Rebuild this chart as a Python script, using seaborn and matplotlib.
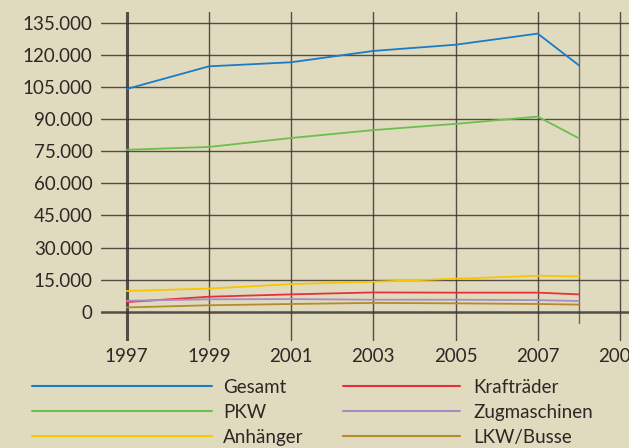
import matplotlib
matplotlib.use("Agg")
import matplotlib.pyplot as plt
import pandas as pd
import seaborn as sns
from matplotlib.ticker import FuncFormatter

# Daten
jahre = [1997, 1999, 2001, 2003, 2005, 2007, 2008]
gesamt = [104100, 114700, 116600, 121900, 124800, 130000, 115200]
pkw = [75700, 77000, 81200, 84900, 87800, 91200, 81100]
anhaenger = [9700, 10800, 12900, 14000, 15400, 16800, 16500]
kraftraeder = [4500, 7000, 8100, 9000, 8900, 8900, 8100]
zugmaschinen = [5100, 5800, 5900, 5600, 5600, 5400, 5000]
lkw_busse = [2000, 3000, 3600, 4100, 3900, 3600, 3300]

serien = ["Gesamt", "PKW", "Anhänger", "Krafträder", "Zugmaschinen", "LKW/Busse"]
farben = ["#1b7bc6", "#6dbf4b", "#f7c600", "#e8303c", "#a88cc0", "#b38b2a"]
y_ticks = [0, 15000, 30000, 45000, 60000, 75000, 90000, 105000, 120000, 135000]
x_ticks = [1997, 1999, 2001, 2003, 2005, 2007, 2009]

werte = [gesamt, pkw, anhaenger, kraftraeder, zugmaschinen, lkw_busse]
df = pd.DataFrame(
    [(j, s, v) for s, vals in zip(serien, werte) for j, v in zip(jahre, vals)],
    columns=["Jahr", "Serie", "Wert"],
)

bg = "#e0dbbf"
grid = "#3a3530"
txt = "#2b2825"
sns.set_style("white")
plt.rcParams["font.family"] = ["Lato", "DejaVu Sans"]

fig = plt.figure(figsize=(6.29, 4.48), dpi=100, facecolor=bg)
ax = fig.add_axes([101 / 629, 1 - 341 / 448, 1 - 101 / 629, (341 - 12) / 448])
ax.set_facecolor(bg)

# Gitter
for y in y_ticks:
    ax.axhline(y, color=grid, lw=1.8 if y == 0 else 1.0, zorder=1, alpha=0.85)
for x in x_ticks:
    ax.axvline(x, color=grid, lw=2.2 if x == 1997 else 1.0, zorder=1, alpha=0.85)
ax.axvline(2008, ymin=0.055, color=grid, lw=1.0, zorder=1, alpha=0.7)

sns.lineplot(data=df, x="Jahr", y="Wert", hue="Serie", hue_order=serien,
             palette=farben, lw=1.3, ax=ax, legend=False, zorder=3)

ax.set_xlim(1996.375, 2009.22)
ax.set_ylim(-13700, 140100)
ax.set_xticks(x_ticks)
ax.set_yticks(y_ticks)
ax.yaxis.set_major_formatter(FuncFormatter(lambda v, p: f"{int(v):,}".replace(",", ".")))
ax.tick_params(length=0, labelsize=13.5, colors=txt)
ax.tick_params(axis="y", pad=6)
ax.tick_params(axis="x", pad=5)
ax.set_xlabel("")
ax.set_ylabel("")
for s in ax.spines.values():
    s.set_visible(False)

# Legende in zwei Spalten
linien = ax.get_lines()[-6:]
leg1 = fig.legend(linien[:3], serien[:3], loc="upper left", bbox_to_anchor=(0.039, 0.171),
                  frameon=False, fontsize=13.5, handlelength=9.6, handletextpad=0.6,
                  labelspacing=0.42, labelcolor=txt, borderaxespad=0)
leg2 = fig.legend(linien[3:], serien[3:], loc="upper left", bbox_to_anchor=(0.533, 0.171),
                  frameon=False, fontsize=13.5, handlelength=6.25, handletextpad=0.7,
                  labelspacing=0.42, labelcolor=txt, borderaxespad=0)
for leg in (leg1, leg2):
    for h in leg.legend_handles:
        h.set_linewidth(1.5)

fig.savefig("out.png", dpi=100, facecolor=bg)
